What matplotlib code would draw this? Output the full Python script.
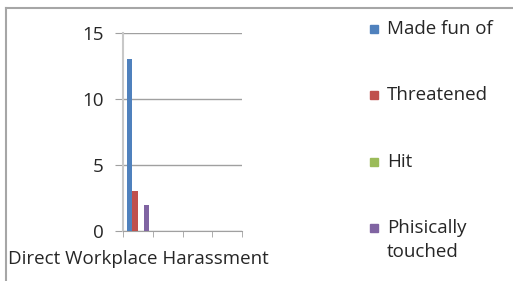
import matplotlib.pyplot as plt
import matplotlib.patches as mpatches
import numpy as np

categories = ["Direct Workplace Harassment", "", "", ""]
series = ["Made fun of", "Threatened", "Hit", "Phisically\ntouched"]
values = [
    [13, 0, 0, 0],
    [3, 0, 0, 0],
    [0, 0, 0, 0],
    [2, 0, 0, 0],
]
colors = ["#4F81BD", "#C0504D", "#9BBB59", "#8064A2"]

plt.rcParams['font.family'] = ['Open Sans', 'DejaVu Sans']

fig = plt.figure(figsize=(5.13, 2.81), dpi=100)
W, H = 513, 281
ax = fig.add_axes([123 / W, 50 / H, 119 / W, 198 / H])

x = np.arange(len(categories))
bw = 0.19
for i, (name, vals) in enumerate(zip(series, values)):
    ax.bar(x + (i - 1.5) * bw, vals, bw, color=colors[i], label=name, zorder=3)

ax.set_xlim(-0.5, len(categories) - 0.5)
ax.set_ylim(0, 15)
ax.set_yticks([0, 5, 10, 15])
ax.yaxis.grid(True, color="#A0A0A0", lw=1)
ax.set_axisbelow(True)
for s in ["top", "right"]:
    ax.spines[s].set_visible(False)
ax.spines["left"].set_color("#C8C8C8")
ax.spines["bottom"].set_color("#A0A0A0")
ax.spines["left"].set_linewidth(1.5)
ax.tick_params(axis="y", length=6, color="#A0A0A0", labelsize=13.5, labelcolor="#262626", pad=8)
ax.set_xticks(np.arange(len(categories) + 1) - 0.5, minor=True)
ax.set_xticks(x)
ax.set_xticklabels(categories, fontsize=13.5, color="#262626")
ax.tick_params(axis="x", which="major", length=0, pad=14)
ax.tick_params(axis="x", which="minor", length=4, color="#A0A0A0")

# legend drawn by hand to place entries like the original
leg_y = [29, 95, 162, 228]
for name, c, yy in zip(series, colors, leg_y):
    fig.patches.append(mpatches.Rectangle((370 / W, 1 - (yy + 4) / H), 8 / W, 8 / H,
                                          color=c, transform=fig.transFigure, figure=fig))
    fig.text(387 / W, 1 - (yy - 9) / H, name, fontsize=13.5, color="#262626",
             va="top", ha="left", linespacing=1.4)

# outer frame
fig.add_artist(plt.Line2D([6 / W, 1], [1 - 8 / H, 1 - 8 / H], color="#A6A6A6", lw=1.5))
fig.add_artist(plt.Line2D([6 / W, 6 / W], [0, 1 - 8 / H], color="#A6A6A6", lw=1.5))

fig.savefig("out.png", dpi=100)
